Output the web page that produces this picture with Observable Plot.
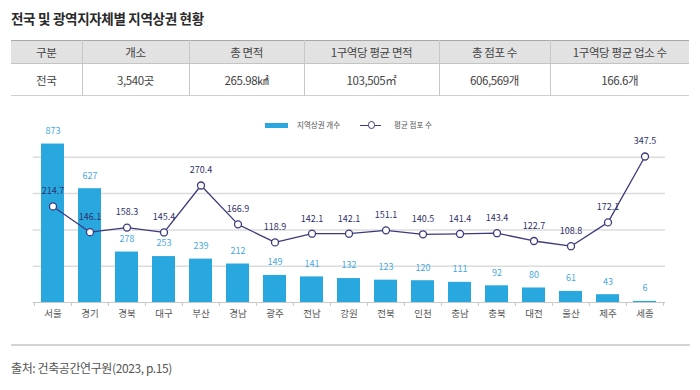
<!DOCTYPE html>
<html>
<head>
<meta charset="utf-8">
<script src="https://cdn.jsdelivr.net/npm/d3@7"></script>
<script src="https://cdn.jsdelivr.net/npm/@observablehq/plot@0.6"></script>
<style>
  html, body { margin: 0; padding: 0; background: #fff; }
  body { font-family: 'Noto Sans CJK KR', 'Noto Sans', sans-serif; color: #333; }
  #wrap { position: relative; width: 700px; height: 390px; overflow: hidden; background: #fff; }
  #title { position: absolute; left: 11px; top: 8px; font-size: 13.5px; font-weight: 700; line-height: 20px; color: #2a2a2a; letter-spacing: -0.3px; }
  table { position: absolute; left: 11px; top: 40px; width: 678px; border-collapse: collapse; table-layout: fixed; font-size: 11.5px; color: #444; letter-spacing: -0.4px; }
  th, td { text-align: center; padding: 0; border-left: 1px solid #c8c8c8; }
  th:first-child, td:first-child { border-left: none; }
  thead tr { background: #e2e2e2; border-top: 1px solid #a8a8a8; border-bottom: 1px solid #c4c4c4; height: 23px; }
  th { font-weight: 400; }
  tbody tr { height: 32px; border-bottom: 1.5px solid #cfcfcf; }
  #chart { position: absolute; left: 0; top: 100px; }
  .leg { position: absolute; font-size: 7.5px; color: #555; line-height: 10px; }
  #sep { position: absolute; left: 11px; top: 344px; width: 679px; height: 1.5px; background: #d4d4d4; }
  #source { position: absolute; left: 11px; top: 359px; font-size: 12px; line-height: 18px; color: #555; letter-spacing: -0.4px; }
</style>
</head>
<body>
<div id="wrap">
  <div id="title">전국 및 광역지자체별 지역상권 현황</div>
  <table>
    <colgroup>
      <col style="width:71px"><col style="width:107px"><col style="width:115px"><col style="width:135px"><col style="width:111px"><col style="width:139px">
    </colgroup>
    <thead><tr id="hrow"></tr></thead>
    <tbody><tr id="drow"></tr></tbody>
  </table>
  <div id="chart"></div>
  <div id="legend"></div>
  <div id="sep"></div>
  <div id="source">출처: 건축공간연구원(2023, p.15)</div>
</div>
<script>
// ---- Data ----
const tableHeaders = ["구분", "개소", "총 면적", "1구역당 평균 면적", "총 점포 수", "1구역당 평균 업소 수"];
const tableValues = ["전국", "3,540곳", "265.98㎢", "103,505㎡", "606,569개", "166.6개"];

const regions = ["서울","경기","경북","대구","부산","경남","광주","전남","강원","전북","인천","충남","충북","대전","울산","제주","세종"];
const areaCounts = [873, 627, 278, 253, 239, 212, 149, 141, 132, 123, 120, 111, 92, 80, 61, 43, 6];
const avgStores = [214.7, 146.1, 158.3, 145.4, 270.4, 166.9, 118.9, 142.1, 142.1, 151.1, 140.5, 141.4, 143.4, 122.7, 108.8, 172.1, 347.5];
const gridValues = [200, 400, 600, 800];
const legendLabels = ["지역상권 개수", "평균 점포 수"];

// ---- Table ----
document.getElementById("hrow").innerHTML = tableHeaders.map(h => `<th>${h}</th>`).join("");
document.getElementById("drow").innerHTML = tableValues.map(v => `<td>${v}</td>`).join("");

// ---- Chart ----
const data = regions.map((r, i) => ({region: r, count: areaCounts[i], avg: avgStores[i]}));

const barColor = "#29a8e0";
const lineColor = "#3b3b7c";

// secondary axis (average stores) mapped into primary units
const toPrimary = v => 84.9 + 2.0704 * v;

const W = 700, H = 230, mL = 32.7, mR = 35, mT = 20.5, mB = 28;
const pIn = 0.38, pOut = 0.19;
const step = (W - mL - mR) / (regions.length - pIn + 2 * pOut);
const font = "'Noto Sans CJK KR', 'Noto Sans', sans-serif";

const chart = Plot.plot({
  width: W, height: H,
  marginLeft: mL, marginRight: mR, marginTop: mT, marginBottom: mB,
  style: {fontFamily: font, background: "transparent", overflow: "visible"},
  x: {type: "band", domain: regions, paddingInner: pIn, paddingOuter: pOut},
  y: {domain: [0, 1000], axis: null},
  marks: [
    Plot.ruleY(gridValues, {stroke: "#dcdcdc", strokeWidth: 1.5}),
    Plot.barY(data, {x: "region", y: "count", fill: barColor}),
    Plot.ruleY([0], {stroke: "#c8c8c8", strokeWidth: 1}),
    Plot.ruleX(regions, {x: d => d, y1: 0, y2: -22, dx: -step / 2, stroke: "#c8c8c8", strokeWidth: 1}),
    Plot.ruleX(regions.slice(-1), {x: d => d, y1: 0, y2: -22, dx: step / 2, stroke: "#c8c8c8", strokeWidth: 1}),
    Plot.text(data, {x: "region", y: "count", text: d => String(d.count), dy: -13, fill: "#48a9e2", fontSize: 9}),
    Plot.lineY(data, {x: "region", y: d => toPrimary(d.avg), stroke: lineColor, strokeWidth: 1.3}),
    Plot.dot(data, {x: "region", y: d => toPrimary(d.avg), r: 3.5, fill: "white", stroke: lineColor, strokeWidth: 1.3}),
    Plot.text(data, {x: "region", y: d => toPrimary(d.avg), text: d => d.avg.toFixed(1), dy: -15, fill: "#30306a", fontSize: 9}),
    Plot.axisX({tickSize: 0, tickPadding: 8, fontSize: 9.5, fill: "#555", label: null})
  ]
});
document.getElementById("chart").appendChild(chart);

// ---- Legend (HTML) ----
const leg = document.getElementById("legend");
leg.innerHTML = `
  <div style="position:absolute;left:265px;top:122.5px;width:23px;height:5px;background:${barColor};"></div>
  <div class="leg" style="left:297px;top:120px;">${legendLabels[0]}</div>
  <div style="position:absolute;left:360px;top:124.5px;width:21px;height:1.3px;background:${lineColor};"></div>
  <div style="position:absolute;left:367.5px;top:121.3px;width:5.4px;height:5.4px;border-radius:50%;background:#fff;border:1.2px solid ${lineColor};"></div>
  <div class="leg" style="left:394px;top:120px;">${legendLabels[1]}</div>
`;
</script>
</body>
</html>
